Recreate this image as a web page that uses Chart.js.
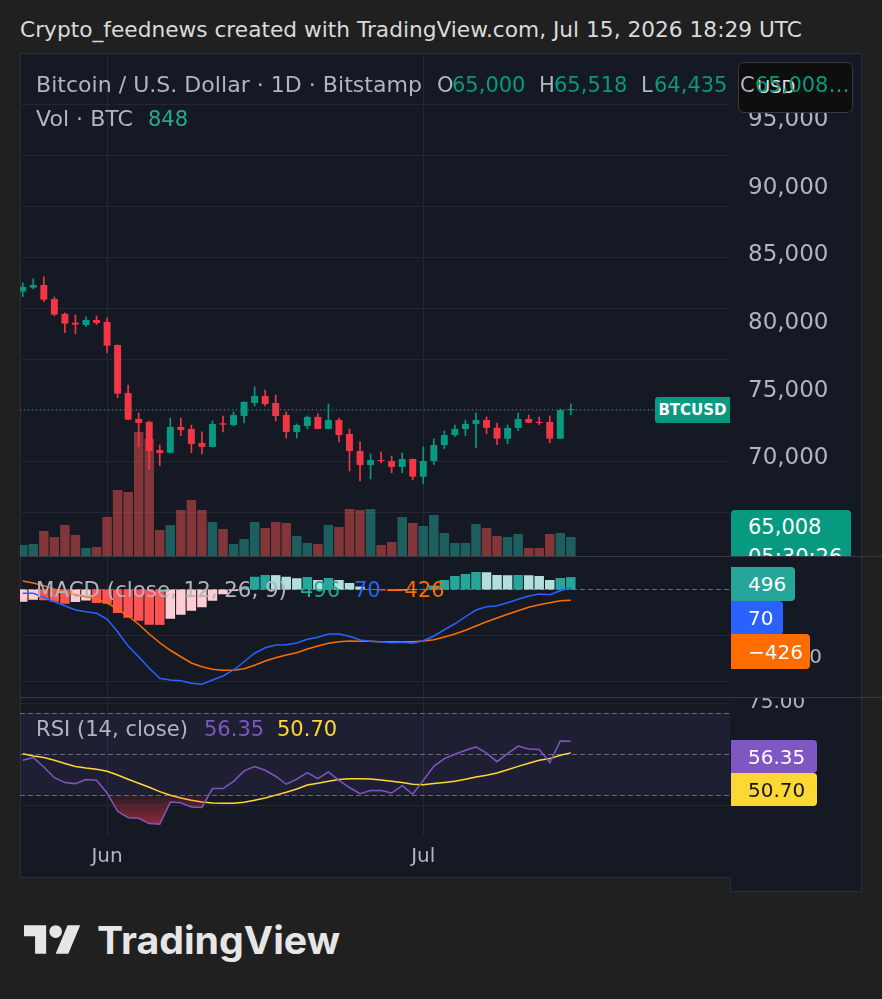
<!DOCTYPE html>
<html>
<head>
<meta charset="utf-8">
<title>BTCUSD 1D</title>
<script src="https://cdn.jsdelivr.net/npm/chart.js"></script>
<style>
  body { margin: 0; width: 882px; height: 999px; background: #202020; position: relative; overflow: hidden; font-family: 'DejaVu Sans', sans-serif; }
  .abs { position: absolute; white-space: nowrap; line-height: 1; }
  .gray { color: #b2b5be; }
  .up { color: #089981; }
  #frame { position: absolute; left: 20px; top: 53px; width: 840px; height: 823px; background: #151924; border: 1px solid #2a2e39; }
  canvas { position: absolute; left: 20px; }
  .sep { position: absolute; left: 20px; width: 862px; height: 1px; background: #363a45; }
  .badge { position: absolute; left: 731px; color: #fff; font-size: 20px; box-sizing: border-box; padding-left: 17px; border-radius: 0 4px 4px 0; display: flex; align-items: center; }
</style>
</head>
<body>
<div id="frame"></div>
<div class="abs" style="left:730px;top:877px;width:130px;height:14px;background:#151924;border:1px solid #2a2e39;border-top:none"></div>
<canvas id="price" width="842" height="503" style="top:53px"></canvas>
<canvas id="macd" width="842" height="141" style="top:556px"></canvas>
<canvas id="rsi" width="842" height="181" style="top:697px"></canvas>
<div class="sep" style="top:556px"></div>
<div class="sep" style="top:697px"></div>

<div class="abs" data-w="782" style="left:20px;top:20px;font-size:21px;color:#dadada">Crypto_feednews created with TradingView.com, Jul 15, 2026 18:29 UTC</div>

<!-- currency box sits under the legend text -->
<div class="abs" style="left:738px;top:62px;width:113px;height:49px;background:#0e0e0e;border:1px solid #3a3a3a;border-radius:6px"></div>
<div class="abs" style="left:757px;top:78px;font-size:18px;color:#e0e0e0">USD</div>

<div class="abs gray" data-w="386" style="left:36px;top:75px;font-size:21px">Bitcoin / U.S. Dollar · 1D · Bitstamp</div>
<div class="abs gray" style="left:437px;top:75px;font-size:21px">O</div>
<div class="abs up" style="left:452px;top:75px;font-size:21px">65,000</div>
<div class="abs gray" style="left:539px;top:75px;font-size:21px">H</div>
<div class="abs up" style="left:554px;top:75px;font-size:21px">65,518</div>
<div class="abs gray" style="left:641px;top:75px;font-size:21px">L</div>
<div class="abs up" style="left:654px;top:75px;font-size:21px">64,435</div>
<div class="abs gray" style="left:740px;top:75px;font-size:21px">C</div>
<div class="abs up" style="left:755px;top:75px;font-size:21px">65,008…</div>
<div class="abs gray" data-w="97" style="left:36px;top:109px;font-size:21px">Vol · BTC</div>
<div class="abs" style="left:148px;top:109px;font-size:21px;color:#22ab94">848</div>

<div class="abs gray" data-w="251" style="left:36px;top:580px;font-size:21px">MACD (close, 12, 26, 9)</div>
<div class="abs" style="left:300px;top:580px;font-size:21px;color:#22ab94">496</div>
<div class="abs" style="left:354px;top:580px;font-size:21px;color:#2962ff">70</div>
<div class="abs" style="left:387px;top:580px;font-size:21px;color:#ff6d00">−426</div>

<div class="abs gray" data-w="152" style="left:36px;top:719px;font-size:21px">RSI (14, close)</div>
<div class="abs" style="left:204px;top:719px;font-size:21px;color:#7e57c2">56.35</div>
<div class="abs" style="left:277px;top:719px;font-size:21px;color:#fdd835">50.70</div>

<div class="abs" style="left:655px;top:397px;width:75px;height:26px;background:#089981;border-radius:3px 0 0 3px;color:#fff;font-size:15px;font-weight:bold;display:flex;align-items:center;justify-content:center">BTCUSD</div>
<div class="abs" style="left:731px;top:510px;width:120px;height:46px;background:#089981;border-radius:4px 4px 0 0;overflow:hidden;color:#fff;font-size:21px">
  <div class="abs" style="left:17px;top:7px">65,008</div>
  <div class="abs" style="left:17px;top:37px">05:30:26</div>
</div>

<div class="badge" style="top:567px;width:64px;height:34px;background:#26a69a">496</div>
<div class="badge" style="top:601px;width:52px;height:34px;background:#2962ff">70</div>
<div class="badge" style="top:634px;width:79px;height:35px;background:#ff6d00">−426</div>
<div class="badge" style="top:740px;width:86px;height:33px;background:#7e57c2">56.35</div>
<div class="badge" style="top:773px;width:86px;height:33px;background:#fdd835;color:#131722">50.70</div>

<svg class="abs" style="left:24px;top:925px" width="57" height="29" viewBox="0 4 36 18">
  <path fill="#e6e6e6" d="M14 22H7V11H0V4h14v18zM28 22h-8l7.5-18h8L28 22z"/>
  <circle fill="#e6e6e6" cx="20" cy="8" r="4"/>
</svg>
<div class="abs" data-w="243" style="left:97px;top:921px;font-size:38px;font-weight:bold;color:#e6e6e6;font-family:Inter, sans-serif">TradingView</div>

<script>
// daily BTCUSD, May 24 - Jul 15
const dates = ['May 24', 'May 25', 'May 26', 'May 27', 'May 28', 'May 29', 'May 30', 'May 31',
  'Jun 1', 'Jun 2', 'Jun 3', 'Jun 4', 'Jun 5', 'Jun 6', 'Jun 7', 'Jun 8', 'Jun 9', 'Jun 10',
  'Jun 11', 'Jun 12', 'Jun 13', 'Jun 14', 'Jun 15', 'Jun 16', 'Jun 17', 'Jun 18', 'Jun 19', 'Jun 20',
  'Jun 21', 'Jun 22', 'Jun 23', 'Jun 24', 'Jun 25', 'Jun 26', 'Jun 27', 'Jun 28', 'Jun 29', 'Jun 30',
  'Jul 1', 'Jul 2', 'Jul 3', 'Jul 4', 'Jul 5', 'Jul 6', 'Jul 7', 'Jul 8', 'Jul 9', 'Jul 10',
  'Jul 11', 'Jul 12', 'Jul 13', 'Jul 14', 'Jul 15'];
const monthStarts = ['Jun 1', 'Jul 1'];
const monthLabels = ['Jun', 'Jul'];

const openP = [82330, 82620, 82820, 81780, 80680, 80030, 79860, 80230, 80090, 78380,
  74830, 72910, 72690, 70610, 70410, 72320, 72170, 71130, 70840, 72590,
  72460, 73130, 74090, 74610, 74090, 73200, 71950, 72390, 73060, 72170,
  72830, 71800, 70540, 69500, 69870, 69800, 69360, 69950, 68640, 69800,
  70980, 71720, 72170, 72540, 72830, 72260, 71450, 72240, 72910, 72690,
  72690, 71450, 73570];
const highP = [82970, 83270, 83420, 81940, 80750, 80600, 80460, 80530, 80380, 78400,
  75420, 73350, 72760, 70980, 72980, 72980, 72460, 71950, 72760, 73130,
  73430, 74170, 75280, 75050, 74680, 73430, 72540, 73130, 73280, 74020,
  72980, 72170, 71210, 70320, 70470, 70170, 70390, 69950, 70840, 71430,
  72020, 72460, 72830, 73350, 73060, 72610, 72460, 73350, 73200, 73060,
  73130, 73650, 74020];
const lowP = [81960, 82530, 81590, 80550, 79290, 79220, 79740, 79890, 77810, 74480,
  72850, 70860, 69160, 69450, 70400, 71670, 70410, 70320, 70830, 71950,
  72390, 72610, 73870, 73870, 72760, 71500, 71500, 72170, 72170, 72170,
  71210, 69060, 68320, 68470, 69650, 68930, 68930, 68420, 68120, 69530,
  70710, 71600, 71670, 70780, 71820, 71010, 71080, 72040, 72630, 72490,
  71150, 71450, 73230];
const closeP = [82680, 82820, 81740, 80630, 79960, 79890, 80230, 80010, 78330, 74780,
  72860, 72610, 70540, 70390, 72320, 72090, 71060, 70840, 72540, 72490,
  73200, 74170, 74610, 74020, 73130, 71950, 72460, 73060, 72170, 72830,
  71720, 70540, 69500, 69870, 69800, 69360, 69950, 68640, 69800, 70980,
  71720, 72170, 72540, 72830, 72260, 71450, 72240, 72910, 72630, 72610,
  71450, 73570, 73620];
const volume = [490, 535, 1115, 848, 1383, 937, 357, 401, 1739, 2944,
  2854, 5530, 5218, 1160, 1383, 2052, 2498, 2052, 1516, 1204,
  535, 758, 1516, 1249, 1516, 1472, 892, 580, 535, 1383,
  1293, 2096, 2052, 2096, 490, 624, 1739, 1472, 1338, 1829,
  1026, 580, 580, 1427, 1249, 892, 848, 981, 357, 357,
  981, 1026, 848];

const macdLine = [-150, -150, -310, -490, -650, -820, -890, -950, -1180, -1690,
  -2260, -2690, -3150, -3550, -3620, -3650, -3750, -3790, -3620, -3460,
  -3220, -2890, -2550, -2330, -2220, -2210, -2140, -1990, -1910, -1780,
  -1780, -1870, -2020, -2070, -2100, -2130, -2110, -2150, -2050, -1860,
  -1610, -1370, -1090, -820, -690, -650, -530, -390, -260, -180,
  -210, -50, 70];
const signalLine = [340, 260, 150, 10, -110, -210, -290, -390, -530, -790,
  -1060, -1390, -1780, -2130, -2430, -2690, -2940, -3090, -3190, -3230,
  -3230, -3170, -3030, -2860, -2730, -2620, -2530, -2380, -2260, -2150,
  -2090, -2060, -2070, -2070, -2090, -2090, -2090, -2090, -2060, -2010,
  -1900, -1780, -1630, -1460, -1290, -1140, -990, -850, -710, -610,
  -530, -450, -426];
const macdHist = [-490, -410, -430, -490, -570, -500, -440, -540, -570, -940,
  -1130, -1250, -1410, -1415, -1170, -1010, -850, -710, -450, -190,
  -60, 110, 510, 580, 575, 510, 450, 500, 380, 460,
  380, 260, 120, -20, -40, -60, -40, -20, 20, 160,
  380, 540, 620, 700, 690, 580, 570, 580, 570, 540,
  380, 460, 496];

const rsiLine = [47.1, 48.4, 43.8, 38.6, 36.2, 35.7, 37.7, 37.3, 31.1, 22.2,
  19.1, 18.8, 16.2, 15.9, 26.7, 26.4, 24.3, 24.1, 33.3, 33.3,
  36.8, 41.9, 44.0, 42.2, 39.3, 35.4, 37.9, 41.1, 38.1, 41.4,
  37.3, 33.8, 30.8, 32.3, 32.3, 31.1, 34.7, 30.5, 37.3, 44.1,
  47.9, 50.0, 52.0, 53.6, 50.6, 46.4, 50.3, 54.0, 52.6, 52.4,
  46.0, 56.5, 56.35];
const rsiMa = [50.3, 49.2, 48.4, 47.1, 45.5, 44.1, 43.3, 42.7, 41.7, 39.9,
  37.8, 35.9, 33.9, 31.8, 30.0, 28.7, 27.6, 26.7, 26.2, 26.1,
  26.1, 26.6, 27.6, 28.7, 30.1, 31.5, 33.1, 35.0, 35.9, 36.8,
  37.7, 38.1, 38.1, 38.0, 37.5, 36.8, 36.2, 35.4, 35.2, 35.7,
  36.3, 36.9, 37.8, 38.9, 39.8, 40.9, 42.5, 44.1, 45.6, 47.1,
  47.9, 49.5, 50.7];
const rsiUpper = 70, rsiMid = 50, rsiLower = 30;

// axis labels and grid levels
const priceTicks = [65000, 70000, 75000, 80000, 85000, 90000, 95000];
const priceGrid = [51, 102, 153, 204, 255, 306, 357, 408, 459];
const macdTicks = [0, -3000];
const macdGrid = [-1840, -3680];
const rsiTicks = [75, 50, 25];
const rsiGrid = [25, 75];

const FONT = "'DejaVu Sans', sans-serif";
const GRID = '#232734';
const AXIS_TEXT = '#b2b5be';
const UP = '#089981', DOWN = '#f23645';
const VOL_UP = 'rgba(38,166,154,0.5)', VOL_DOWN = 'rgba(239,83,80,0.5)';
const X_MIN = -0.26, X_MAX = 67.1;

Chart.defaults.font.family = FONT;
Chart.defaults.color = AXIS_TEXT;

const monthIdx = monthStarts.map(d => dates.indexOf(d));
const isUp = closeP.map((c, i) => c >= openP[i]);
const xy = arr => arr.map((v, i) => ({ x: i, y: v }));

function timeScale(showLabels) {
  return {
    type: 'linear', min: X_MIN, max: X_MAX, offset: false,
    grid: { color: GRID, offset: false, drawTicks: false },
    border: { display: false },
    ticks: {
      display: showLabels, autoSkip: false, maxRotation: 0, padding: 9,
      color: AXIS_TEXT, font: { size: 20 },
      callback: v => monthLabels[monthIdx.indexOf(v)]
    },
    afterBuildTicks: s => { s.ticks = monthIdx.map(v => ({ value: v })); },
    afterFit: s => { s.height = showLabels ? 42 : 0; }
  };
}

// value axis that only draws grid lines at the given levels
function gridScale(min, max, levels, width, extra) {
  return Object.assign({
    position: 'right', min: min, max: max,
    ticks: { display: false },
    grid: { color: GRID, drawTicks: false },
    border: { display: false },
    afterBuildTicks: s => { s.ticks = levels.map(v => ({ value: v })); },
    afterFit: s => { s.width = width; }
  }, extra || {});
}

const common = {
  responsive: false, animation: false, devicePixelRatio: 1,
  layout: { autoPadding: false, padding: 0 },
  plugins: { legend: { display: false }, tooltip: { enabled: false } }
};

function axisLabels(scaleId, values, fmt, size) {
  return {
    id: 'axisLabels',
    afterDraw(chart) {
      const s = chart.scales[scaleId];
      const { ctx, chartArea: a } = chart;
      ctx.save();
      ctx.fillStyle = AXIS_TEXT;
      ctx.font = size + 'px ' + FONT;
      ctx.textAlign = 'left';
      ctx.textBaseline = 'middle';
      values.forEach(v => {
        if (v < s.min || v > s.max) return;
        ctx.fillText(fmt(v), a.right + 18, s.getPixelForValue(v));
      });
      ctx.restore();
    }
  };
}

// dotted line at the last close
const lastPriceLine = {
  id: 'lastPriceLine',
  afterDatasetsDraw(chart) {
    const { ctx, chartArea: a, scales: { y } } = chart;
    const py = Math.round(y.getPixelForValue(closeP[closeP.length - 1])) + 0.5;
    ctx.save();
    ctx.strokeStyle = UP;
    ctx.lineWidth = 1;
    ctx.setLineDash([1, 3]);
    ctx.beginPath();
    ctx.moveTo(a.left, py);
    ctx.lineTo(a.right, py);
    ctx.stroke();
    ctx.restore();
  }
};

function dashedLevels(levels) {
  return {
    id: 'dashedLevels',
    beforeDatasetsDraw(chart) {
      const { ctx, chartArea: a, scales: { y } } = chart;
      ctx.save();
      ctx.strokeStyle = '#6a6d78';
      ctx.lineWidth = 1;
      ctx.setLineDash([5, 3]);
      levels.forEach(v => {
        const py = Math.round(y.getPixelForValue(v)) + 0.5;
        ctx.beginPath();
        ctx.moveTo(a.left, py);
        ctx.lineTo(a.right, py);
        ctx.stroke();
      });
      ctx.restore();
    }
  };
}

const rsiBand = {
  id: 'rsiBand',
  beforeDatasetsDraw(chart) {
    const { ctx, chartArea: a, scales: { y } } = chart;
    const top = y.getPixelForValue(rsiUpper), bot = y.getPixelForValue(rsiLower);
    ctx.save();
    ctx.fillStyle = 'rgba(126,87,194,0.1)';
    ctx.fillRect(a.left, top, a.right - a.left, bot - top);
    ctx.restore();
  }
};

const fmtPrice = v => v.toLocaleString('en-US');

// price pane: candles + volume
new Chart(document.getElementById('price'), {
  type: 'bar',
  data: {
    datasets: [
      {
        label: 'Volume', yAxisID: 'yv', data: xy(volume),
        backgroundColor: isUp.map(u => u ? VOL_UP : VOL_DOWN),
        grouped: false, categoryPercentage: 1, barPercentage: 0.9, order: 3
      },
      {
        label: 'Wicks', yAxisID: 'y', data: lowP.map((l, i) => ({ x: i, y: [l, highP[i]] })),
        backgroundColor: isUp.map(u => u ? UP : DOWN),
        grouped: false, barThickness: 1, order: 2
      },
      {
        label: 'Bodies', yAxisID: 'y', data: openP.map((o, i) => ({ x: i, y: [o, closeP[i]] })),
        backgroundColor: isUp.map(u => u ? UP : DOWN),
        grouped: false, categoryPercentage: 1, barPercentage: 0.66, minBarLength: 1, order: 1
      }
    ]
  },
  options: Object.assign({}, common, {
    scales: {
      x: timeScale(false),
      y: { position: 'right', min: 62774, max: 99976, ticks: { display: false }, grid: { display: false },
        border: { display: false }, afterFit: s => { s.width = 132; } },
      yg: gridScale(0, 503, priceGrid, 0, { reverse: true }),
      yv: { display: false, min: 0, max: 22434 }
    }
  }),
  plugins: [lastPriceLine, axisLabels('y', priceTicks, fmtPrice, 23)]
});

// MACD pane
const histColors = macdHist.map((h, i) => {
  const rising = i === 0 || h > macdHist[i - 1];
  if (h >= 0) return rising ? '#26a69a' : '#b2dfdb';
  return rising ? '#ffcdd2' : '#ff5252';
});

new Chart(document.getElementById('macd'), {
  type: 'bar',
  data: {
    datasets: [
      { type: 'line', label: 'MACD', yAxisID: 'y', data: xy(macdLine), borderColor: '#2962ff', borderWidth: 1.5, pointRadius: 0, order: 1 },
      { type: 'line', label: 'Signal', yAxisID: 'y', data: xy(signalLine), borderColor: '#ff6d00', borderWidth: 1.5, pointRadius: 0, order: 2 },
      { type: 'bar', label: 'Histogram', yAxisID: 'y', data: xy(macdHist), backgroundColor: histColors,
        grouped: false, categoryPercentage: 1, barPercentage: 0.9, order: 3 }
    ]
  },
  options: Object.assign({}, common, {
    scales: {
      x: timeScale(false),
      y: gridScale(-4300, 1340, macdGrid, 132),
      yl: { display: false, min: -4529, max: 1000 }
    }
  }),
  plugins: [dashedLevels([0]), axisLabels('yl', macdTicks, v => fmtPrice(v).replace('-', '\u2212'), 20)]
});

// RSI pane with the time axis
const rsiChart = new Chart(document.getElementById('rsi'), {
  type: 'line',
  data: {
    datasets: [
      { label: 'RSI', yAxisID: 'y', data: xy(rsiLine), borderColor: '#7e57c2', borderWidth: 1.5, pointRadius: 0, order: 1,
        fill: { target: { value: rsiLower }, above: 'transparent', below: 'rgba(242,54,69,0.4)' } },
      { label: 'RSI MA', yAxisID: 'y', data: xy(rsiMa), borderColor: '#fdd835', borderWidth: 1.5, pointRadius: 0, order: 2, fill: false }
    ]
  },
  options: Object.assign({}, common, {
    scales: {
      x: timeScale(true),
      y: gridScale(10.15, 77.95, rsiGrid, 132),
      yl: { display: false, min: 25.45, max: 77.12 }
    }
  }),
  plugins: [rsiBand, dashedLevels([rsiUpper, rsiMid, rsiLower]), axisLabels('yl', rsiTicks, v => v.toFixed(2), 20)]
});

// oversold fill fades in towards the bottom
const ys = rsiChart.scales.y;
const oversold = rsiChart.ctx.createLinearGradient(0, ys.getPixelForValue(rsiLower), 0, ys.getPixelForValue(ys.min));
oversold.addColorStop(0, 'rgba(242,54,69,0.1)');
oversold.addColorStop(1, 'rgba(242,54,69,0.75)');
rsiChart.data.datasets[0].fill.below = oversold;
rsiChart.update('none');

// squeeze html labels to the widths seen in the snapshot
document.querySelectorAll('[data-w]').forEach(el => {
  const w = el.getBoundingClientRect().width;
  el.style.transformOrigin = 'left center';
  el.style.transform = 'scaleX(' + (el.dataset.w / w).toFixed(3) + ')';
});
</script>
</body>
</html>
